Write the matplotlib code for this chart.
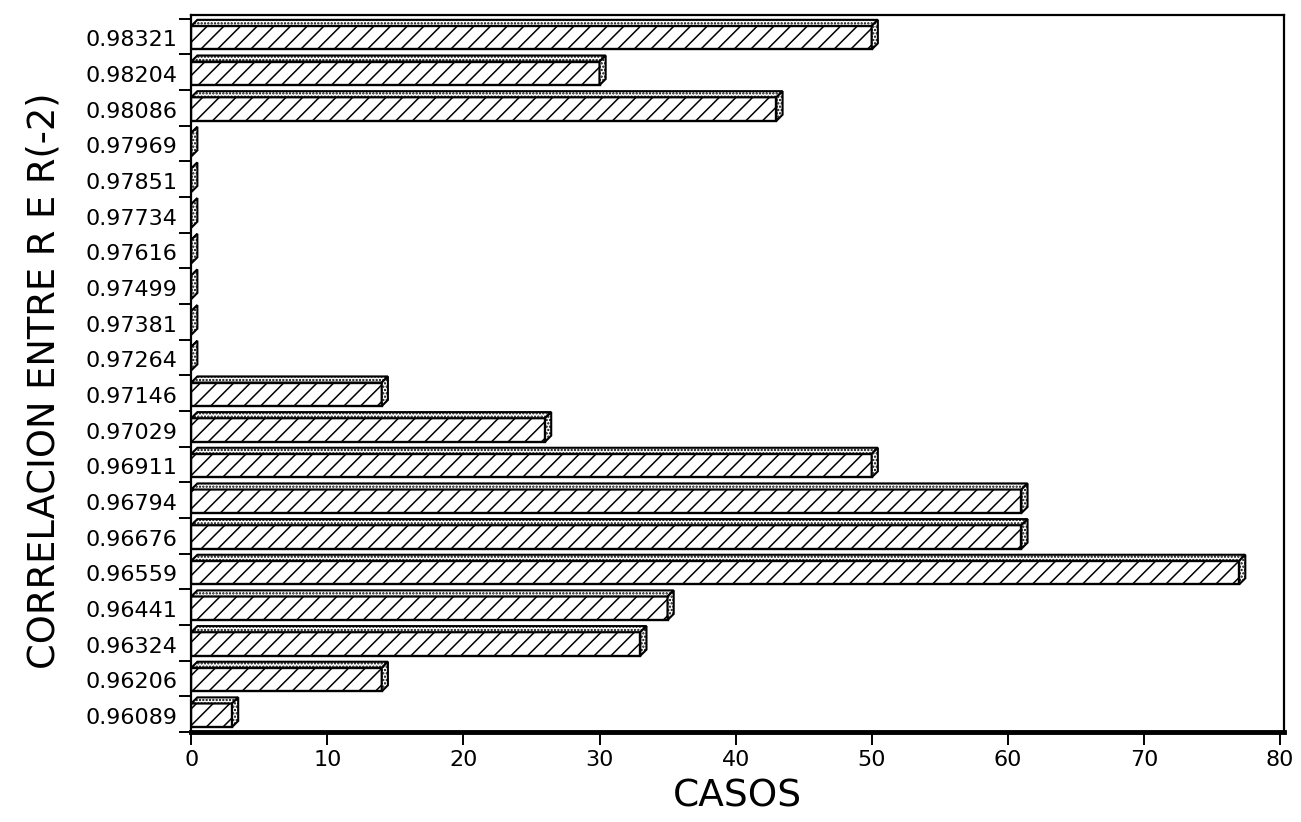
import matplotlib.pyplot as plt
from matplotlib.patches import Rectangle, Polygon

plt.rcParams['font.family'] = ['DejaVu Sans']
plt.rcParams['hatch.linewidth'] = 1.1

# datos (de abajo hacia arriba)
categorias = ['0.96089', '0.96206', '0.96324', '0.96441', '0.96559', '0.96676',
              '0.96794', '0.96911', '0.97029', '0.97146', '0.97264', '0.97381',
              '0.97499', '0.97616', '0.97734', '0.97851', '0.97969', '0.98086',
              '0.98204', '0.98321']
casos = [3, 14, 33, 35, 77, 61, 61, 50, 26, 14, 0, 0, 0, 0, 0, 0, 0, 43, 30, 50]

fig = plt.figure(figsize=(13.01, 8.22), dpi=100)
ax = fig.add_axes([0.147, 0.1095, 0.840, 0.872])

dx, dy = 0.45, 0.17      # profundidad del efecto 3D
b0, b1 = 0.14, 0.80      # cara frontal dentro de cada banda

for i, v in enumerate(casos):
    y0, y1 = i + b0, i + b1
    # cara frontal
    ax.add_patch(Rectangle((0, y0), v, y1 - y0, facecolor='white',
                           edgecolor='black', lw=1.7, hatch='//'))
    # cara superior
    ax.add_patch(Polygon([(0, y1), (v, y1), (v + dx, y1 + dy), (dx, y1 + dy)],
                         closed=True, facecolor='white', edgecolor='black',
                         lw=1.5, hatch='.....'))
    # cara lateral
    ax.add_patch(Polygon([(v, y0), (v + dx, y0 + dy), (v + dx, y1 + dy), (v, y1)],
                         closed=True, facecolor='white', edgecolor='black',
                         lw=1.5, hatch='.....'))

ax.set_xlim(0, 80.3)
ax.set_ylim(0, 20.1)

ax.set_xticks(range(0, 81, 10))
ax.set_yticks(range(0, 21))
ax.set_yticklabels([])
ax.set_yticks([i + 0.45 for i in range(20)], minor=True)
ax.set_yticklabels(categorias, minor=True)
ax.tick_params(axis='y', which='minor', length=0, labelsize=16, pad=10)
ax.tick_params(axis='y', which='major', length=9, width=1.4, direction='out')
ax.tick_params(axis='x', length=9, width=1.4, direction='out', labelsize=16, pad=4)

for s in ax.spines.values():
    s.set_linewidth(1.6)
ax.spines['bottom'].set_linewidth(3.5)

ax.set_xlabel('CASOS', fontsize=27, labelpad=6)
ax.set_ylabel('CORRELACION ENTRE R E R(-2)', fontsize=26.5, labelpad=14)
ax.yaxis.set_label_coords(-0.118, 0.49)

fig.savefig('out.png', dpi=100)
